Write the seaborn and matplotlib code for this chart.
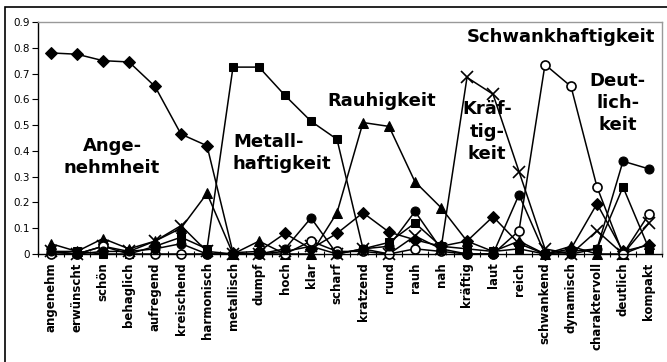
import numpy as np
import matplotlib.pyplot as plt
import seaborn as sns
import pandas as pd
from matplotlib.patches import Rectangle

categories = ["angenehm", "erwünscht", "schön", "behaglich", "aufregend", "kreischend",
              "harmonisch", "metallisch", "dumpf", "hoch", "klar", "scharf", "kratzend",
              "rund", "rauh", "nah", "kräftig", "laut", "reich", "schwankend", "dynamisch",
              "charaktervoll", "deutlich", "kompakt"]

angenehmheit = [0.78, 0.775, 0.75, 0.745, 0.65, 0.465, 0.42, 0.005, 0.01, 0.08, 0.02, 0.08,
                0.16, 0.085, 0.055, 0.03, 0.05, 0.145, 0.04, 0.0, 0.02, 0.195, 0.01, 0.035]
metallhaftigkeit = [0.01, 0.01, 0.0, 0.0, 0.03, 0.065, 0.02, 0.725, 0.725, 0.615, 0.515, 0.445,
                    0.02, 0.045, 0.12, 0.03, 0.02, 0.01, 0.02, 0.0, 0.01, 0.02, 0.26, 0.02]
rauhigkeit = [0.04, 0.01, 0.06, 0.02, 0.05, 0.1, 0.235, 0.0, 0.05, 0.0, 0.0, 0.16,
              0.51, 0.495, 0.28, 0.18, 0.05, 0.01, 0.05, 0.0, 0.03, 0.0, 0.0, 0.04]
kraeftigkeit = [0.01, 0.0, 0.03, 0.01, 0.05, 0.11, 0.01, 0.0, 0.0, 0.01, 0.03, 0.0,
                0.02, 0.0, 0.07, 0.02, 0.685, 0.62, 0.32, 0.02, 0.0, 0.09, 0.0, 0.12]
schwankhaftigkeit = [0.0, 0.0, 0.03, 0.0, 0.0, 0.0, 0.0, 0.0, 0.0, 0.0, 0.05, 0.01,
                     0.01, 0.0, 0.02, 0.01, 0.0, 0.0, 0.09, 0.735, 0.65, 0.26, 0.0, 0.155]
deutlichkeit = [0.01, 0.0, 0.01, 0.01, 0.02, 0.04, 0.0, 0.0, 0.0, 0.02, 0.14, 0.0,
                0.02, 0.03, 0.165, 0.02, 0.0, 0.0, 0.23, 0.0, 0.0, 0.02, 0.36, 0.33]

sns.set_theme(style="white")
plt.rcParams['font.family'] = ['DejaVu Sans']
plt.rcParams['text.color'] = 'black'
plt.rcParams['xtick.color'] = 'black'
plt.rcParams['ytick.color'] = 'black'
plt.rcParams['axes.labelcolor'] = 'black'

fig = plt.figure(figsize=(6.67, 3.62), dpi=100)
ax = fig.add_axes([38 / 667, 1 - 254 / 362, (662 - 38) / 667, (254 - 22) / 362])

x = np.arange(len(categories))
series = [
    (angenehmheit, dict(marker="D", markersize=6.5, markerfacecolor="black")),
    (metallhaftigkeit, dict(marker="s", markersize=6, markerfacecolor="black")),
    (rauhigkeit, dict(marker="^", markersize=7, markerfacecolor="black")),
    (kraeftigkeit, dict(marker="x", markersize=9, markeredgewidth=1.2)),
    (schwankhaftigkeit, dict(marker="o", markersize=6.5, markerfacecolor="white", markeredgewidth=1.2)),
    (deutlichkeit, dict(marker="o", markersize=6.5, markerfacecolor="black")),
]
for vals, style in series:
    df = pd.DataFrame({"x": x, "y": vals})
    sns.lineplot(data=df, x="x", y="y", ax=ax, color="black", linewidth=1.1,
                 markeredgecolor="black", clip_on=False, sort=False, **style)

ax.set_xlim(-0.5, len(categories) - 0.5)
ax.set_ylim(0, 0.9)
ax.set_yticks(np.arange(0, 0.91, 0.1))
ax.set_yticklabels(["0"] + [f"{v:.1f}" for v in np.arange(0.1, 0.91, 0.1)], fontsize=7.5)
ax.set_xticks(x)
ax.set_xticklabels(categories, rotation=90, fontsize=8.5, fontweight="bold")
ax.set_xticks(np.arange(len(categories) + 1) - 0.5, minor=True)
ax.tick_params(axis="x", which="major", length=0, pad=6)
ax.tick_params(axis="x", which="minor", length=4, width=0.8, direction="inout", bottom=True)
ax.tick_params(axis="y", length=4, width=0.8, left=True, direction="out", pad=2)
ax.set_xlabel("")
ax.set_ylabel("")

for side in ["left", "bottom"]:
    ax.spines[side].set_color("black")
    ax.spines[side].set_linewidth(1)
for side in ["top", "right"]:
    ax.spines[side].set_color("#999999")
    ax.spines[side].set_linewidth(1)

lab = dict(fontsize=13, fontweight="bold", linespacing=1.3, color="black")
ax.text(2.35, 0.376, "Ange-\nnehmheit", ha="center", va="center", **lab)
ax.text(7.0, 0.392, "Metall-\nhaftigkeit", ha="left", va="center", **lab)
ax.text(12.73, 0.593, "Rauhigkeit", ha="center", va="center", **lab)
ax.text(16.77, 0.475, "Kräf-\ntig-\nkeit", ha="center", va="center", **lab)
ax.text(19.6, 0.842, "Schwankhaftigkeit", ha="center", va="center", **lab)
ax.text(21.8, 0.586, "Deut-\nlich-\nkeit", ha="center", va="center", **lab)

fig.add_artist(Rectangle((5 / 667, -0.1), 1.2, 1.1 - 7 / 362, transform=fig.transFigure,
                         fill=False, edgecolor="black", linewidth=1.2))

fig.savefig("out.png", dpi=100)
